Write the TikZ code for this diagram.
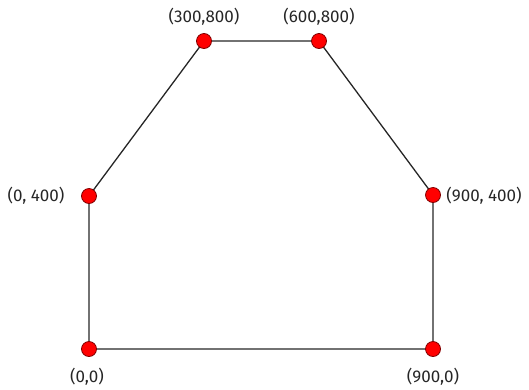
\documentclass[tikz,border=0pt]{standalone}
\usepackage{fontspec}
\setmainfont{Fira Sans}
\begin{document}
\begin{tikzpicture}[x=1pt,y=-1pt,
  pt/.style={circle,fill=red,draw=red!50!black,line width=0.8pt,minimum size=15pt,inner sep=0pt},
  lbl/.style={font=\fontsize{17}{20}\selectfont,text=black!85},
  edge/.style={draw=black!85,line width=1.3pt}]
\useasboundingbox (0,0) rectangle (529,389);
\coordinate (A) at (89,349);
\coordinate (B) at (433,349);
\coordinate (C) at (433,195);
\coordinate (D) at (319,41);
\coordinate (E) at (204,41);
\coordinate (F) at (89,196);
\draw[edge] (A) -- (B) -- (C) -- (D) -- (E) -- (F) -- cycle;
\foreach \p in {A,B,C,D,E,F} \node[pt] (n\p) at (\p) {};
\node[lbl] (lA) at (87,377) {(0,0)};
\node[lbl] (lB) at (433,377) {(900,0)};
\node[lbl] (lC) at (484,196) {(900, 400)};
\node[lbl] (lD) at (319,17) {(600,800)};
\node[lbl] (lE) at (204,17) {(300,800)};
\node[lbl] (lF) at (36,196) {(0, 400)};
\end{tikzpicture}
\end{document}
